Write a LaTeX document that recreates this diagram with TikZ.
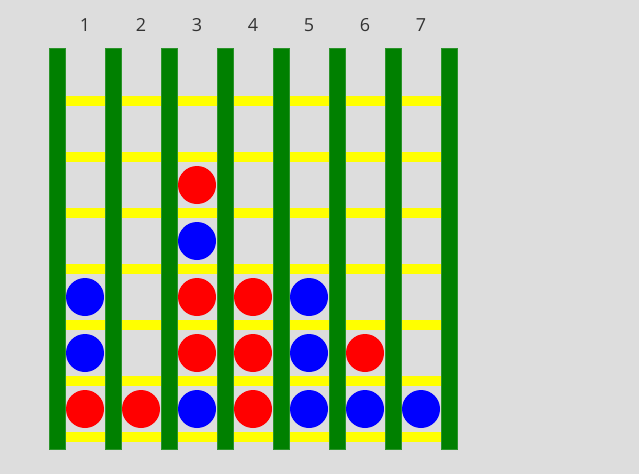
\documentclass[tikz,border=0pt]{standalone}
\usepackage{fontspec}
\setmainfont{Open Sans}
\definecolor{bg}{HTML}{DDDDDD}
\definecolor{post}{HTML}{008000}
\definecolor{rung}{HTML}{FFFF00}
\definecolor{redpiece}{HTML}{FF0000}
\definecolor{bluepiece}{HTML}{0000FF}
\definecolor{labeltext}{HTML}{333333}
\tikzset{
  postbar/.style={fill=post, draw=post!80!bg, line width=0.6pt},
  rungbar/.style={fill=rung},
  piece/.style={circle, minimum size=38pt, inner sep=0pt},
  redp/.style={piece, fill=redpiece},
  bluep/.style={piece, fill=bluepiece},
  collabel/.style={text=labeltext, font=\fontsize{18}{18}\selectfont, inner sep=0pt, anchor=base}
}
\begin{document}
\begin{tikzpicture}[x=1pt,y=-1pt]
\fill[bg] (0,0) rectangle (639,474);
\useasboundingbox (0,0) rectangle (639,474);
% rungs
\foreach \r in {0,...,6}{
  \fill[rungbar] (57,96+56*\r) rectangle (449,106+56*\r);
}
% posts
\foreach \k in {0,...,7}{
  \filldraw[postbar] (49+56*\k,48) rectangle (65+56*\k,449);
}
% column labels
\foreach \c in {1,...,7}{
  \node[collabel] (lab\c) at (85+56*\c-56,31) {\c};
}
% pieces: (column, row from bottom)
\foreach \c/\r/\s in {1/1/redp,1/2/bluep,1/3/bluep,
                      2/1/redp,
                      3/1/bluep,3/2/redp,3/3/redp,3/4/bluep,3/5/redp,
                      4/1/redp,4/2/redp,4/3/redp,
                      5/1/bluep,5/2/bluep,5/3/bluep,
                      6/1/bluep,6/2/redp,
                      7/1/bluep}{
  \node[\s] (p\c\r) at (85+56*\c-56, 409-56*\r+56) {};
}
\end{tikzpicture}
\end{document}
